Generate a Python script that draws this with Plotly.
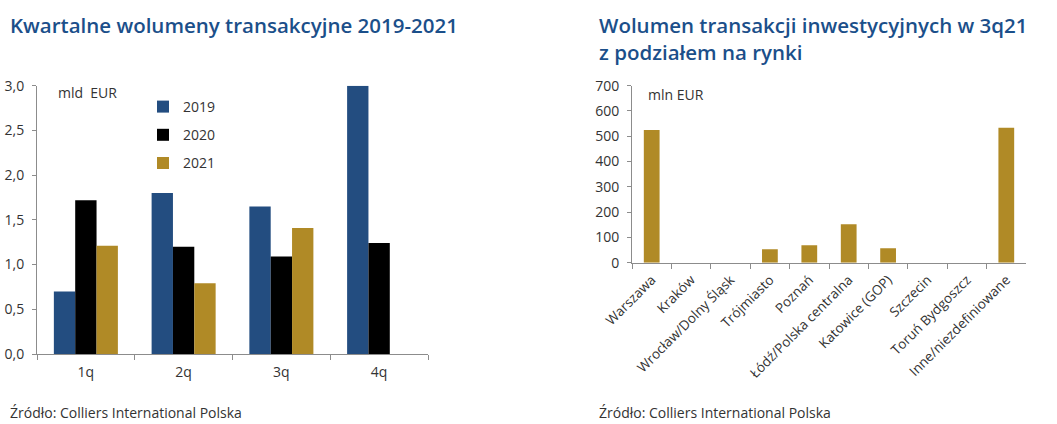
import plotly.graph_objects as go

W, H = 1057, 424

# ---- data: left chart ----
quarters = ["1q", "2q", "3q", "4q"]
years = ["2019", "2020", "2021"]
vol_2019 = [0.70, 1.80, 1.65, 3.00]
vol_2020 = [1.72, 1.20, 1.09, 1.24]
vol_2021 = [1.21, 0.79, 1.41, None]
left_ticks = [0.0, 0.5, 1.0, 1.5, 2.0, 2.5, 3.0]

# ---- data: right chart ----
markets = ["Warszawa", "Kraków", "Wrocław/Dolny Śląsk", "Trójmiasto", "Poznań",
           "Łódź/Polska centralna", "Katowice (GOP)", "Szczecin", "Toruń Bydgoszcz",
           "Inne/niezdefiniowane"]
market_vol = [525, 0, 0, 53, 69, 152, 57, 0, 0, 534]
right_ticks = [0, 100, 200, 300, 400, 500, 600, 700]

BLUE = "#234D80"
BLACK = "#000000"
GOLD = "#B08A26"
TITLE_C = "#1B4F8A"
TXT = "#333333"
AX = "#8C8C8C"
FONT = "Open Sans"

def px(x):
    return x / W

def py(y):
    return 1 - y / H

fig = go.Figure()
for name, vals, col in zip(years, [vol_2019, vol_2020, vol_2021], [BLUE, BLACK, GOLD]):
    fig.add_trace(go.Bar(x=quarters, y=vals, name=name, marker=dict(color=col, line=dict(width=0)),
                         xaxis="x", yaxis="y", legendgroup=name))

fig.add_trace(go.Bar(x=markets, y=market_vol, marker=dict(color=GOLD, line=dict(width=0)),
                     xaxis="x2", yaxis="y2", showlegend=False, width=0.4))

def axis(**kw):
    d = dict(showline=True, linecolor=AX, linewidth=1, showgrid=False, zeroline=False,
             ticks="outside", tickcolor=AX, ticklen=4, automargin=False,
             tickfont=dict(family=FONT, size=14, color=TXT))
    d.update(kw)
    return d

fig.update_layout(
    width=W, height=H, margin=dict(l=0, r=0, t=0, b=0, autoexpand=False),
    paper_bgcolor="white", plot_bgcolor="white",
    separators=", ",
    barmode="group", bargap=0.345, bargroupgap=0,
    showlegend=True,
    legend=dict(x=px(143), y=py(91), xanchor="left", yanchor="top",
                font=dict(family=FONT, size=14, color=TXT), tracegroupgap=7,
                bgcolor="rgba(0,0,0,0)"),
    xaxis=axis(domain=[px(37), px(428)], anchor="y", tickson="boundaries", ticklen=5,
               ticklabelstandoff=5),
    yaxis=axis(domain=[py(354), py(85.7)], anchor="x", range=[0, 3], tickvals=left_ticks,
               tickformat=".1f", ticklabelstandoff=5),
    xaxis2=axis(domain=[px(632), px(1026)], anchor="y2", tickson="boundaries", ticklen=5,
                tickangle=-45, ticklabelstandoff=3,
                tickfont=dict(family=FONT, size=13.5, color=TXT)),
    yaxis2=axis(domain=[py(262.7), py(85.7)], anchor="x2", range=[0, 700], tickvals=right_ticks,
                ticklabelstandoff=5),
)

ann = [
    dict(text="Kwartalne wolumeny transakcyjne 2019-2021", x=px(8), y=py(25),
         font=dict(family=FONT, size=20.5, color=TITLE_C, weight=600)),
    dict(text="Wolumen transakcji inwestycyjnych w 3q21<br>z podziałem na rynki", x=px(597), y=py(39),
         font=dict(family=FONT, size=20.5, color=TITLE_C, weight=600)),
    dict(text="mld  EUR", x=px(56), y=py(93), font=dict(family=FONT, size=14, color=TXT)),
    dict(text="mln EUR", x=px(646), y=py(94), font=dict(family=FONT, size=14, color=TXT)),
    dict(text="Źródło: Colliers International Polska", x=px(8), y=py(412),
         font=dict(family=FONT, size=14, color=TXT)),
    dict(text="Źródło: Colliers International Polska", x=px(597), y=py(412),
         font=dict(family=FONT, size=14, color=TXT)),
]
for a in ann:
    fig.add_annotation(xref="paper", yref="paper", xanchor="left", yanchor="middle",
                       showarrow=False, align="left", **a)

fig.write_html("out.html", config={"displayModeBar": False})

# remove default page margin so the figure fills the window exactly
with open("out.html", encoding="utf-8") as f:
    html = f.read()
html = html.replace("<head>", "<head><style>html,body{margin:0;padding:0;overflow:hidden;}</style>", 1)
with open("out.html", "w", encoding="utf-8") as f:
    f.write(html)
